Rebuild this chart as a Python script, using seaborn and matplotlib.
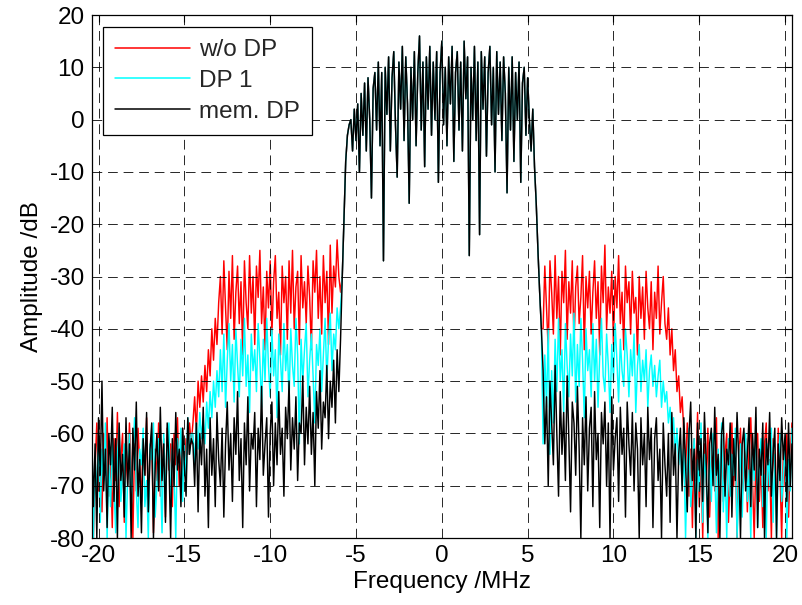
import numpy as np
import pandas as pd
import matplotlib
matplotlib.use("Agg")
import matplotlib.pyplot as plt
import seaborn as sns

# ---------------- data (dB) ----------------
FREQ_START_TENTHS = -204   # -20.4 MHz
FREQ_STOP_TENTHS = 204     # 20.4 MHz (step 0.1 MHz)

series_names = ["w/o DP", "DP 1", "mem. DP"]
series_colors = ["#ff0000", "#00ffff", "#000000"]

# main channel (-5.8 .. 5.8 MHz), common to all three curves
band = [
    -30, -19, -8, -3, -1, 0, -6, 2, -4, 3,
    -10, 5, -3, 7, -6, 8, 0, -15, 6, 9,
    -2, 11, -5, 9, -27, 10, 1, 12, -6, 8,
    13, -1, -11, 11, 2, 14, -4, 12, 3, -16,
    10, 0, 13, -5, 9, 16, -2, 11, -9, 12,
    2, 14, -3, 11, 0, 13, -12, 9, 15, -1,
    10, -5, 12, 3, 14, -8, 9, 13, -2, 11,
    -6, 15, 4, 12, -26, 10, 0, 14, -4, 11,
    -22, 13, 2, 12, -7, 9, 14, -1, 10, -10,
    13, 1, 11, -4, 12, 5, -14, 10, -2, 12,
    -8, 9, 0, 11, -12, 7, 10, -3, 8, 0,
    -6, 2, -9, -16, -25, -33, -40,
]

# w/o DP : -20.4 .. -5.9 MHz
wo_dp_left = [
    -62, -80, -66, -58, -71, -63, -75, -60, -68, -57,
    -72, -64, -78, -61, -69, -56, -74, -65, -60, -77,
    -63, -70, -58, -67, -80, -62, -71, -59, -66, -73,
    -61, -68, -57, -75, -64, -60, -79, -63, -69, -58,
    -72, -65, -61, -76, -59, -67, -62, -74, -60, -66,
    -57, -70, -63, -59, -68, -61, -64, -58, -62,
    -58, -53, -60, -50, -55, -49, -54, -47, -52, -44, -49, -40, -46, -38, -43, -35,
    -30, -41, -27, -36, -44, -29, -38, -26, -42, -33,
    -28, -39, -31, -45, -27, -35, -40, -26, -37, -30,
    -43, -28, -34, -25, -39, -32, -44, -29, -36, -27,
    -41, -31, -26, -38, -33, -45, -28, -35, -30, -42,
    -27, -37, -25, -40, -32, -29, -43, -26, -36, -31,
    -39, -28, -34, -44, -27, -33, -25, -38, -30, -41,
    -26, -35, -29, -43, -24, -37, -28, -32, -23, -30,
    -33,
]
# w/o DP : 5.9 .. 20.4 MHz
wo_dp_right = [
    -40, -28, -36, -44, -27, -33, -41, -26, -38, -30,
    -45, -29, -35, -25, -42, -31, -37, -27, -43, -32,
    -28, -39, -34, -26, -44, -30, -36, -29, -41, -33,
    -27, -38, -31, -45, -28, -35, -24, -40, -32, -37,
    -29, -43, -30, -36, -26, -39, -33, -44, -28, -35,
    -31, -41, -29, -37, -34, -45, -30, -38, -32, -42,
    -29, -36, -40, -31, -44, -33, -38, -28, -41, -35,
    -30, -39,
    -42, -36, -45, -40, -48, -44, -52, -49, -56, -53,
    -60, -67, -58, -72, -63, -78, -61, -69, -56, -74,
    -65, -80, -62, -70, -59, -76, -66, -63, -71, -57,
    -80, -68, -61, -73, -64, -60, -77, -67, -58, -70,
    -62, -80, -65, -59, -72, -68, -61, -75, -63, -57,
    -69, -80, -64, -60, -73, -66, -78, -62, -58, -71,
    -65, -80, -61, -68, -74, -59, -67, -80, -63, -70,
    -60, -76, -64, -58,
]

# DP 1
dp1_left = [
    -57, -80, -65, -72, -60, -77, -63, -69, -58, -80,
    -66, -74, -61, -70, -79, -64, -59, -73, -67, -62,
    -80, -68, -60, -75, -64, -57, -71, -78, -63, -66,
    -59, -74, -69, -80, -62, -65, -58, -76, -70, -61,
    -67, -79, -60, -72, -64, -58, -75, -63, -68, -80,
    -61, -66, -59, -73, -62, -69, -57, -64, -60,
    -60, -66, -58, -63, -56, -61, -57, -62, -54, -59, -52, -57, -50, -55, -48, -53,
    -44, -52, -41, -55, -46, -39, -50, -43, -54, -40,
    -47, -53, -42, -49, -38, -51, -45, -56, -41, -48,
    -44, -52, -39, -46, -55, -42, -50, -38, -47, -53,
    -40, -49, -44, -57, -41, -46, -52, -39, -48, -43,
    -54, -40, -47, -51, -38, -45, -62, -42, -50, -44,
    -39, -53, -46, -41, -49, -58, -43, -47, -40, -52,
    -45, -38, -50, -42, -37, -48, -41, -44, -36, -40,
    -36,
]
dp1_right = [
    -62, -45, -55, -40, -64, -48, -58, -42, -52, -38,
    -50, -44, -56, -39, -47, -53, -41, -49, -37, -54,
    -43, -51, -38, -46, -57, -40, -48, -44, -53, -39,
    -50, -42, -55, -45, -38, -49, -52, -41, -47, -56,
    -43, -50, -39, -46, -54, -42, -48, -51, -40, -45,
    -53, -44, -49, -41, -56, -47, -43, -52, -46, -50,
    -44, -55, -48, -45, -51, -47, -53, -49, -46, -55,
    -50, -54,
    -52, -58, -55, -61, -57, -64, -59, -66, -62, -70,
    -63, -80, -66, -59, -74, -68, -61, -80, -65, -71,
    -58, -77, -64, -69, -80, -62, -73, -60, -67, -79,
    -63, -70, -58, -75, -66, -80, -61, -72, -64, -68,
    -59, -80, -70, -62, -76, -65, -60, -73, -67, -80,
    -63, -69, -57, -78, -65, -61, -74, -68, -80, -62,
    -70, -59, -77, -64, -80, -66, -60, -73, -68, -62,
    -80, -65, -71, -59,
]

# mem. DP
mem_dp_left = [
    -59, -74, -62, -80, -57, -68, -50, -71, -63, -78,
    -60, -66, -55, -73, -61, -80, -58, -69, -64, -76,
    -57, -70, -62, -80, -59, -67, -54, -72, -65, -79,
    -61, -68, -56, -75, -63, -58, -80, -66, -60, -71,
    -55, -69, -62, -77, -58, -65, -80, -61, -70, -56,
    -67, -63, -74, -59, -66, -72, -57, -64, -61,
    -62, -70, -58, -75, -60, -66, -55, -72, -63, -78,
    -57, -68, -61, -74, -56, -65, -70, -59, -76, -62,
    -54, -67, -60, -73, -57, -64, -52, -69, -61, -78,
    -58, -66, -53, -71, -60, -63, -56, -74, -59, -65,
    -51, -68, -62, -57, -76, -60, -54, -70, -58, -66,
    -52, -64, -59, -72, -55, -61, -50, -67, -57, -63,
    -53, -69, -58, -60, -49, -66, -55, -62, -51, -64,
    -56, -70, -52, -59, -48, -63, -54, -57, -47, -61,
    -50, -55, -46, -58, -44, -52,
    -42,
]
mem_dp_right = [
    -48, -62, -53, -70, -50, -58, -66, -47, -60, -72,
    -52, -64, -56, -69, -49, -61, -75, -54, -58, -68,
    -51, -63, -80, -57, -66, -53, -71, -59, -55, -74,
    -52, -65, -60, -78, -56, -62, -54, -70, -58, -80,
    -53, -67, -61, -57, -73, -55, -64, -59, -76, -54,
    -62, -68, -56, -71, -58, -63, -80, -57, -66, -60,
    -74, -55, -65, -59, -78, -61, -57, -69, -63, -80,
    -58, -66, -72, -60, -77, -56, -68, -62, -80, -64,
    -59, -71, -57, -66, -75, -60, -54, -69, -63, -80,
    -58, -67, -61, -73, -56, -65, -79, -62, -59, -70,
    -55, -68, -64, -80, -60, -57, -72, -63, -66, -58,
    -76, -61, -69, -56, -65, -80, -62, -59, -71, -64,
    -57, -74, -60, -67, -55, -78, -63, -68, -58, -80,
    -61, -66, -56, -72, -64, -59, -80, -62, -69, -57,
    -65, -60, -73, -58, -70, -62,
]

x_ticks = [-20, -15, -10, -5, 0, 5, 10, 15, 20]
y_ticks = [-80, -70, -60, -50, -40, -30, -20, -10, 0, 10, 20]

# ---------------- build table ----------------
freq = np.arange(FREQ_START_TENTHS, FREQ_STOP_TENTHS + 1) / 10.0
curves = {
    "w/o DP": wo_dp_left + band + wo_dp_right,
    "DP 1": dp1_left + band + dp1_right,
    "mem. DP": mem_dp_left + band + mem_dp_right,
}
frames = []
for name in series_names:
    vals = curves[name]
    assert len(vals) == len(freq), (name, len(vals), len(freq))
    frames.append(pd.DataFrame({"Frequency": freq, "Amplitude": vals, "Series": name}))
df = pd.concat(frames, ignore_index=True)

# ---------------- style ----------------
FS = 17.5
sns.set_theme(style="white")
plt.rcParams["font.family"] = ["Liberation Sans", "DejaVu Sans"]
plt.rcParams["axes.edgecolor"] = "black"
plt.rcParams["axes.linewidth"] = 0.9

fig = plt.figure(figsize=(8.02, 6.05), dpi=100)
ax = fig.add_axes([0.1143, 0.1107, 0.8732, 0.8645])

sns.lineplot(
    data=df, x="Frequency", y="Amplitude", hue="Series",
    hue_order=series_names, palette=dict(zip(series_names, series_colors)),
    estimator=None, sort=False, linewidth=1.05, ax=ax, legend=True,
)

ax.set_xlim(-20.4, 20.4)
ax.set_ylim(-80, 20)
ax.set_xticks(x_ticks)
ax.set_yticks(y_ticks)
ax.set_xticklabels([str(t) for t in x_ticks])
ax.set_yticklabels([str(t) for t in y_ticks])
ax.grid(True, color="black", linewidth=0.7, linestyle=(0, (10, 6)), alpha=0.85)
ax.set_axisbelow(False)
ax.tick_params(direction="in", length=5, width=0.8, top=True, right=True,
               labelsize=FS, pad=5, colors="black")
for sp in ax.spines.values():
    sp.set_visible(True)
    sp.set_color("black")
    sp.set_linewidth(0.9)

ax.set_xlabel("Frequency /MHz", fontsize=FS, labelpad=3, color="black")
ax.set_ylabel("Amplitude /dB", fontsize=FS, labelpad=5, color="black")

handles, labels = ax.get_legend_handles_labels()
for h in handles:
    h.set_linewidth(1.1)
leg = ax.legend(handles, labels, loc="upper left", bbox_to_anchor=(0.016, 0.977),
                borderaxespad=0, fontsize=FS, frameon=True, fancybox=False,
                framealpha=1, edgecolor="black", handlelength=3.1,
                handletextpad=0.35, labelspacing=0.36, borderpad=0.5)
leg.get_frame().set_linewidth(0.9)

fig.savefig("out.png", dpi=100)
